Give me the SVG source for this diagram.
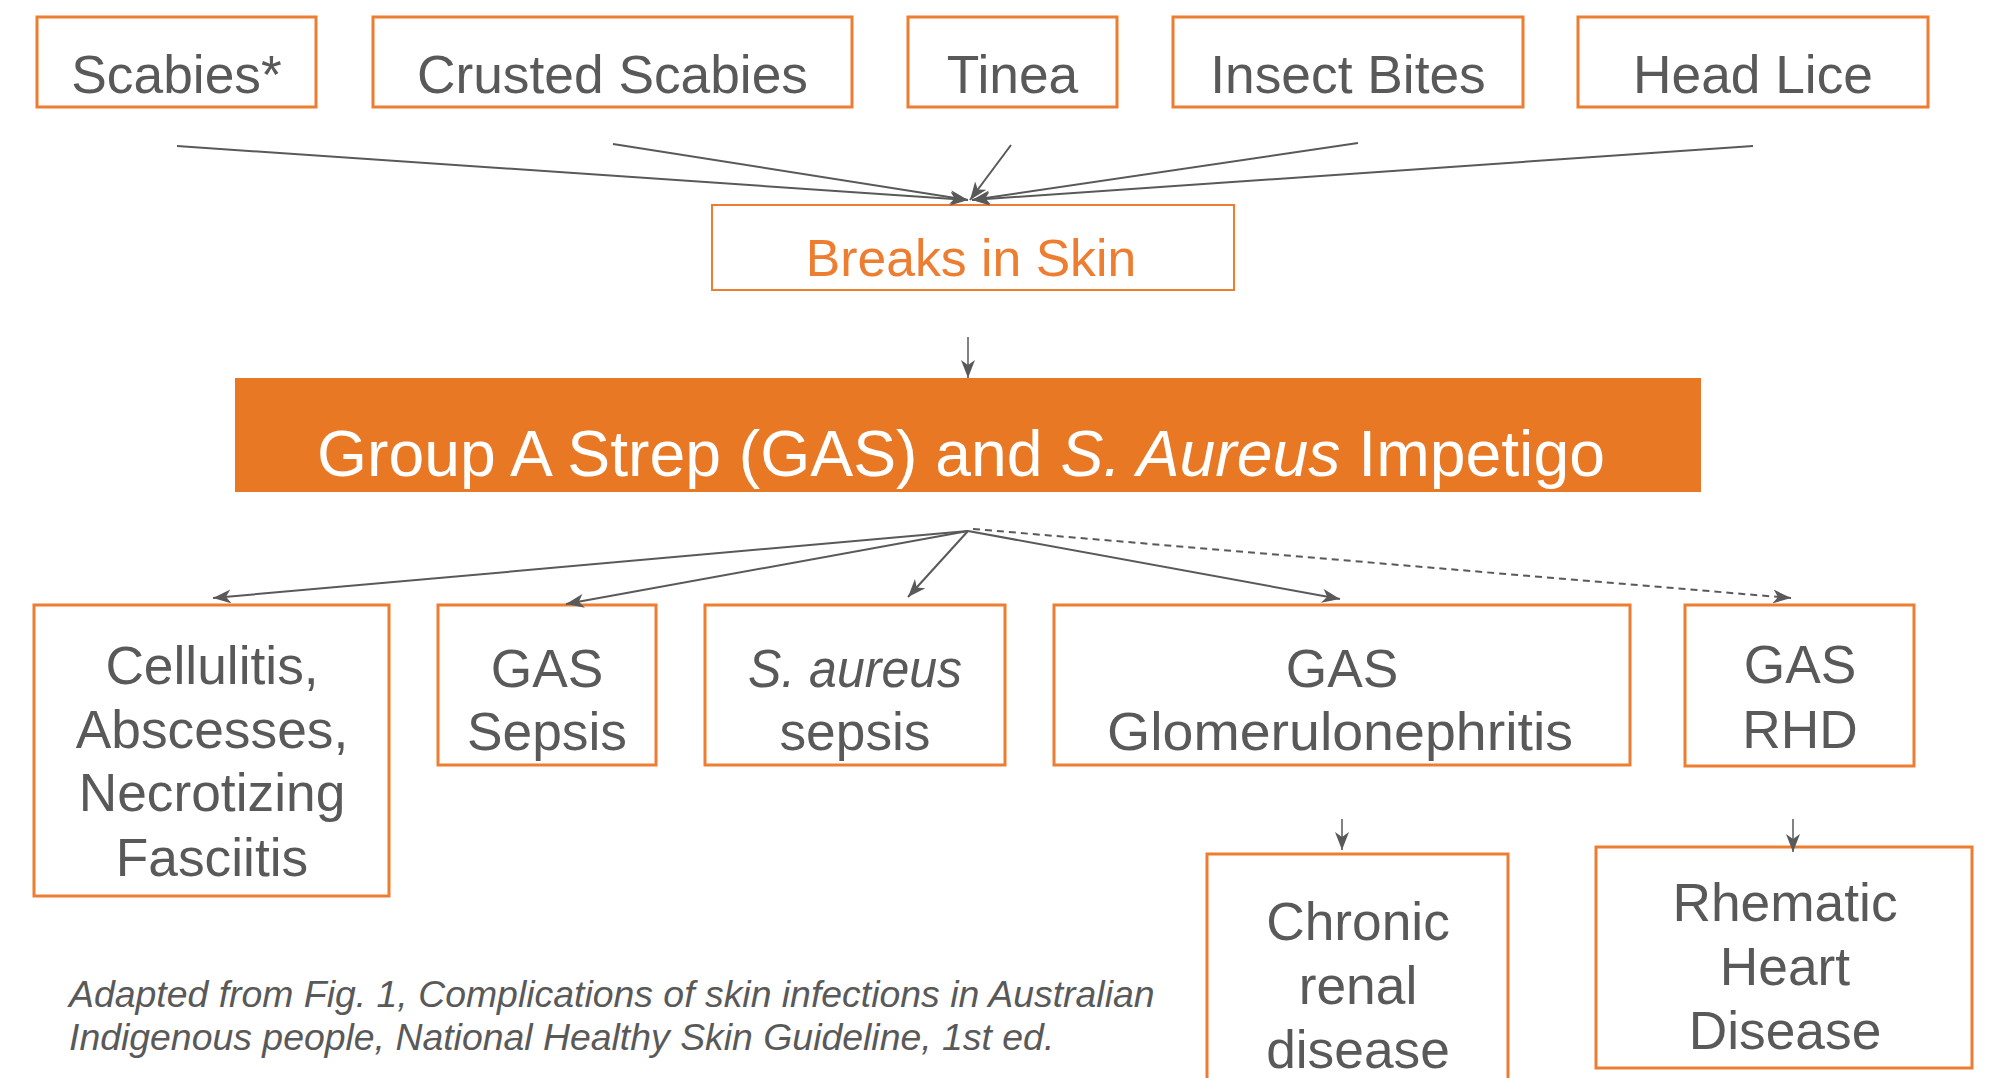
<svg xmlns="http://www.w3.org/2000/svg" width="1992" height="1078" viewBox="0 0 1992 1078">
<style>
.box{fill:#fff;stroke:#ED7D31;stroke-width:3}
.thin{fill:#fff;stroke:#ED7D31;stroke-width:2}
.t{font-family:"Liberation Sans",Arial,sans-serif;font-size:53.3px;fill:#595959;text-anchor:middle}
.c{fill:none;stroke:#595959;stroke-width:2}
.d{stroke-dasharray:7 5}
.foot{font-family:"Liberation Sans",Arial,sans-serif;font-size:37.4px;font-style:italic;fill:#595959}
</style>
<defs>
<marker id="ah" markerUnits="userSpaceOnUse" markerWidth="20" markerHeight="14" refX="18" refY="7" orient="auto">
<path d="M0,0 L18,7 L0,14 L5,7 z" fill="#595959"/>
</marker>
</defs>
<rect width="1992" height="1078" fill="#fff"/>
<g id="scabies"><rect class="box" x="37" y="17" width="279" height="90"/><text class="t" x="176.5" y="93">Scabies*</text></g>
<g id="crusted"><rect class="box" x="373" y="17" width="479" height="90"/><text class="t" x="612.5" y="93">Crusted Scabies</text></g>
<g id="tinea"><rect class="box" x="908" y="17" width="209" height="90"/><text class="t" x="1012.5" y="93">Tinea</text></g>
<g id="insect"><rect class="box" x="1173" y="17" width="350" height="90"/><text class="t" x="1348" y="93">Insect Bites</text></g>
<g id="lice"><rect class="box" x="1578" y="17" width="350" height="90"/><text class="t" x="1753" y="93">Head Lice</text></g>
<g id="breaks"><rect class="thin" x="712" y="205" width="522" height="85"/><text class="t" x="971" y="276" style="fill:#ED7D31;font-size:51.7px">Breaks in Skin</text></g>
<g id="impetigo"><rect x="235" y="378" width="1466" height="114" fill="#E97825"/><text class="t" x="961" y="476" style="fill:#fff;font-size:64.3px">Group A Strep (GAS) and <tspan font-style="italic">S. Aureus</tspan> Impetigo</text></g>
<g id="cellulitis"><rect class="box" x="34" y="605" width="355" height="291"/><text class="t" x="212" y="684">Cellulitis,</text><text class="t" x="212" y="748">Abscesses,</text><text class="t" x="212" y="811">Necrotizing</text><text class="t" x="212" y="876">Fasciitis</text></g>
<g id="gassepsis"><rect class="box" x="438" y="605" width="218" height="160"/><text class="t" x="547" y="687">GAS</text><text class="t" x="547" y="750">Sepsis</text></g>
<g id="saureus"><rect class="box" x="705" y="605" width="300" height="160"/><text class="t" x="855" y="687" font-style="italic" textLength="214" lengthAdjust="spacingAndGlyphs">S. aureus</text><text class="t" x="855" y="750">sepsis</text></g>
<g id="glomerulo"><rect class="box" x="1054" y="605" width="576" height="160"/><text class="t" x="1342" y="687">GAS</text><text class="t" x="1340" y="750" textLength="466" lengthAdjust="spacingAndGlyphs">Glomerulonephritis</text></g>
<g id="rhd"><rect class="box" x="1685" y="605" width="229" height="161"/><text class="t" x="1800" y="683">GAS</text><text class="t" x="1800" y="748">RHD</text></g>
<g id="chronic"><rect class="box" x="1207" y="854" width="301" height="240"/><text class="t" x="1358" y="940">Chronic</text><text class="t" x="1358" y="1004">renal</text><text class="t" x="1358" y="1068">disease</text></g>
<g id="rheumatic"><rect class="box" x="1596" y="847" width="376" height="221"/><text class="t" x="1785" y="921">Rhematic</text><text class="t" x="1785" y="985">Heart</text><text class="t" x="1785" y="1049">Disease</text></g>
<g id="connectors">
<line class="c" x1="177" y1="146" x2="968" y2="200" marker-end="url(#ah)"/>
<line class="c" x1="613" y1="144" x2="968" y2="200" marker-end="url(#ah)"/>
<line class="c" x1="1011" y1="145" x2="970" y2="200" marker-end="url(#ah)"/>
<line class="c" x1="1358" y1="143" x2="972" y2="200" marker-end="url(#ah)"/>
<line class="c" x1="1753" y1="146" x2="972" y2="200" marker-end="url(#ah)"/>
<line class="c" x1="968" y1="337" x2="968" y2="378" marker-end="url(#ah)" style="stroke-width:1.5"/>
<line class="c" x1="968" y1="531" x2="213" y2="598" marker-end="url(#ah)"/>
<line class="c" x1="968" y1="531" x2="566" y2="604" marker-end="url(#ah)"/>
<line class="c" x1="968" y1="531" x2="908" y2="597" marker-end="url(#ah)"/>
<line class="c" x1="968" y1="531" x2="1340" y2="599" marker-end="url(#ah)"/>
<line class="c d" x1="973" y1="529" x2="1791" y2="598" marker-end="url(#ah)"/>
<line class="c" x1="1342" y1="819" x2="1342" y2="850" marker-end="url(#ah)" style="stroke-width:1.5"/>
<line class="c" x1="1793" y1="819" x2="1793" y2="852" marker-end="url(#ah)" style="stroke-width:1.5"/>
</g>
<g id="footer">
<text class="foot" x="69" y="1007">Adapted from Fig. 1, Complications of skin infections in Australian</text>
<text class="foot" x="69" y="1050">Indigenous people, National Healthy Skin Guideline, 1st ed.</text>
</g>
</svg>
